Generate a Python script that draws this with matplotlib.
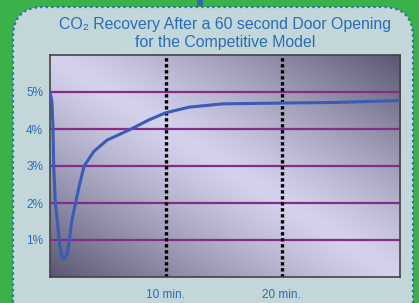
import numpy as np
import matplotlib.pyplot as plt
from matplotlib.patches import FancyBboxPatch, Rectangle

# data (minutes after door opening, CO2 %)
minutes = [0, 0.17, 0.26, 0.32, 0.46, 0.67, 0.84, 1.04, 1.24, 1.47, 1.67, 1.9,
           2.2, 2.55, 2.94, 3.8, 4.93, 7.0, 8.56, 10.0, 12.0, 14.9, 19.8,
           25.0, 30.2]
co2_pct = [5.0, 4.73, 4.0, 3.0, 2.0, 1.4, 0.85, 0.53, 0.49, 0.62, 1.0, 1.55,
           2.0, 2.5, 3.0, 3.4, 3.7, 4.0, 4.25, 4.44, 4.59, 4.68, 4.70,
           4.72, 4.77]
grid_levels = [1, 2, 3, 4, 5]
y_labels = ['1%', '2%', '3%', '4%', '5%']
marker_minutes = [10, 20]
x_labels = ['10 min.', '20 min.']

BLUE = '#2a6db3'
GREEN = '#3bb14a'
PANEL = '#c3d6d9'

plt.rcParams['font.family'] = ['Liberation Sans', 'DejaVu Sans']

fig = plt.figure(figsize=(4.19, 3.03), dpi=100, facecolor=GREEN)

# rounded light panel with dotted border
panel = FancyBboxPatch((0.38, -0.5), 3.5, 3.21,
                       boxstyle='round,pad=0.25,rounding_size=0.3',
                       transform=fig.dpi_scale_trans, facecolor=PANEL,
                       edgecolor=BLUE, linestyle=(0, (1, 1.5)), linewidth=1.6,
                       zorder=-5)
fig.patches.append(panel)
fig.patches.append(Rectangle((1.97, 2.97), 0.06, 0.06, transform=fig.dpi_scale_trans,
                             facecolor=BLUE, edgecolor='none', zorder=-5))

ax = fig.add_axes([50 / 419, 26 / 303, 350 / 419, 222 / 303])

# shaded background
u, v = np.meshgrid(np.linspace(0, 1, 300), np.linspace(0, 1, 300))
b = np.clip(np.abs(u + v - 1.0), 0, 1) ** 1.2
light = np.array([212, 210, 236]) / 255
dark = np.array([88, 86, 112]) / 255
img = light[None, None, :] * (1 - b[..., None]) + dark[None, None, :] * b[..., None]
ax.imshow(img, extent=[0, 30.2, 0, 6], origin='lower', aspect='auto', zorder=0)

for lvl in grid_levels:
    ax.axhline(lvl, color='#8a2a88', linewidth=1.6, zorder=1)
for m in marker_minutes:
    ax.axvline(m, color='black', linestyle=(0, (1, 0.8)), linewidth=2.4, zorder=2)

ax.plot(minutes, co2_pct, color='#3b5bb8', linewidth=2.2, zorder=3,
        solid_capstyle='round', solid_joinstyle='round')

ax.set_xlim(0, 30.2)
ax.set_ylim(0, 6)
ax.set_yticks(grid_levels)
ax.set_yticklabels(y_labels)
ax.set_xticks(marker_minutes)
ax.set_xticklabels(x_labels)
ax.tick_params(length=0, labelcolor=BLUE, labelsize=8.5)
ax.tick_params(axis='y', pad=5)
ax.tick_params(axis='x', pad=9)
for s in ax.spines.values():
    s.set_color('#444444')
    s.set_linewidth(1.2)

fig.text(225 / 419, 1 - 24 / 303, 'CO₂ Recovery After a 60 second Door Opening',
         ha='center', va='center', color=BLUE, fontsize=11.4)
fig.text(225 / 419, 1 - 43 / 303, 'for the Competitive Model',
         ha='center', va='center', color=BLUE, fontsize=11.4)

fig.savefig('out.png', dpi=100, facecolor=GREEN)
